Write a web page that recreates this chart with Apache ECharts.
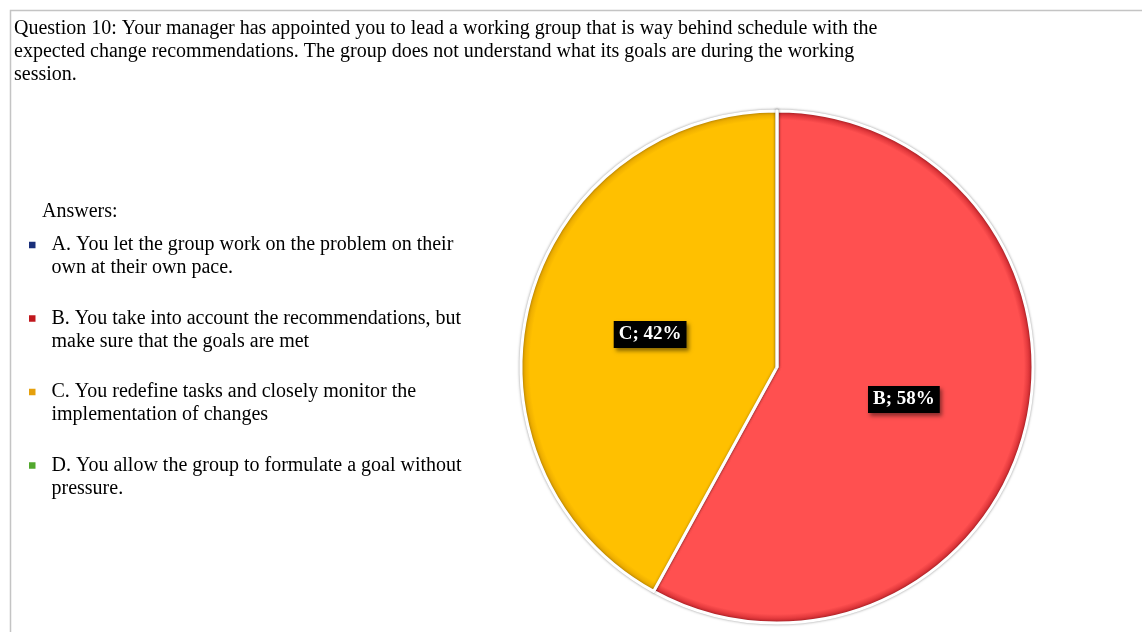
<!DOCTYPE html>
<html>
<head>
<meta charset="utf-8">
<title>Question 10</title>
<script src="https://cdn.jsdelivr.net/npm/echarts@6/dist/echarts.min.js"></script>
<style>
  html, body { margin: 0; padding: 0; background: #fff; }
  #chart { width: 1142px; height: 632px; }
</style>
</head>
<body>
<div id="chart"></div>
<script>
// answer categories and their share of responses (%)
const categories = ["A", "B", "C", "D"];
const shares = [0, 58, 42, 0];
const answerTexts = [
  "A. You let the group work on the problem on their\nown at their own pace.",
  "B. You take into account the recommendations, but\nmake sure that the goals are met",
  "C. You redefine tasks and closely monitor the\nimplementation of changes",
  "D. You allow the group to formulate a goal without\npressure."
];
const questionText =
  "Question 10: Your manager has appointed you to lead a working group that is way behind schedule with the\n" +
  "expected change recommendations. The group does not understand what its goals are during the working\n" +
  "session.";

const serif = "'Liberation Serif', 'Times New Roman', serif";
const cx = 777, cy = 367, R = 256;

function rimFill(base, edge) {
  return {
    type: "radial", x: cx, y: cy, r: R, global: true,
    colorStops: [
      { offset: 0, color: base },
      { offset: 0.965, color: base },
      { offset: 1, color: edge }
    ]
  };
}

const sliceFills = {
  A: "#1F3A7A",
  B: rimFill("#FF5050", "#C8232A"),
  C: rimFill("#FFC000", "#E0A000"),
  D: "#5DAA2F"
};
const markerColors = { A: "#1A2F7A", B: "#C0171D", C: "#E5A00D", D: "#52A82E" };

const chart = echarts.init(document.getElementById("chart"));

const option = {
  backgroundColor: "#fff",
  animation: false,
  title: [
    {
      text: questionText,
      left: 9,
      top: 12,
      textStyle: { fontFamily: serif, fontSize: 20, fontWeight: "normal", color: "#000", lineHeight: 23 }
    },
    {
      text: "Answers:",
      left: 37,
      top: 195,
      textStyle: { fontFamily: serif, fontSize: 20, fontWeight: "normal", color: "#000", lineHeight: 23 }
    }
  ],
  legend: {
    orient: "vertical",
    left: 24,
    top: 205.5,
    icon: "rect",
    itemWidth: 6.5,
    itemHeight: 6.5,
    itemGap: 4.5,
    selectedMode: false,
    itemStyle: { borderWidth: 0, shadowBlur: 0 },
    data: categories.map(c => ({ name: c, itemStyle: { color: markerColors[c] } })),
    // leading blank line keeps the marker level with the first text line
    formatter: name => "\n" + answerTexts[categories.indexOf(name)],
    textStyle: {
      fontFamily: serif, fontSize: 20, color: "#000", lineHeight: 23,
      padding: [0, 0, 0, 11]
    }
  },
  graphic: [
    {
      type: "rect",
      silent: true,
      shape: { x: 10.5, y: 10.5, width: 1140, height: 640 },
      style: { fill: null, stroke: "#c4c4c4", lineWidth: 1.5 }
    }
  ],
  series: [
    {
      type: "pie",
      center: [cx, cy],
      radius: R,
      startAngle: 90,
      clockwise: true,
      avoidLabelOverlap: false,
      itemStyle: {
        borderColor: "#fff",
        borderWidth: 3,
        shadowColor: "rgba(0,0,0,0.35)",
        shadowBlur: 3
      },
      label: {
        show: true,
        position: "inner",
        formatter: "{b}; {d}%",
        fontFamily: serif,
        fontSize: 19,
        fontWeight: "bold",
        color: "#fff",
        backgroundColor: "#000",
        padding: [5, 5, 3, 5],
        shadowColor: "rgba(0,0,0,0.45)",
        shadowBlur: 4,
        shadowOffsetX: 2,
        shadowOffsetY: 3
      },
      labelLine: { show: false },
      emphasis: { disabled: true },
      data: categories.map((c, i) => ({
        name: c,
        value: shares[i],
        itemStyle: { color: sliceFills[c] },
        label: { show: shares[i] > 0 }
      }))
    }
  ]
};

chart.setOption(option);
</script>
</body>
</html>
